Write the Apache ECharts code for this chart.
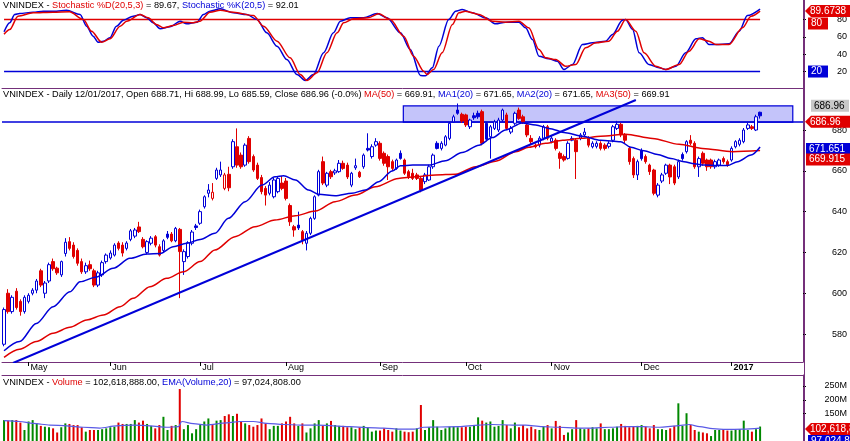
<!DOCTYPE html>
<html><head><meta charset="utf-8">
<script src="https://cdn.jsdelivr.net/npm/echarts@6/dist/echarts.min.js"></script>
<style>html,body{margin:0;padding:0;background:#fff}#c{width:850px;height:441px}</style>
</head><body><div id="c"></div>
<script>
// ---------- DATA ----------
const opens = [
575,600,591,601,596,591,596,600,601.5,611, 600,606,615.5,612.3,609,619.5,625.3,623.6,621,615.5,
610.5,614,611,604,609,615.5,617.3,618.7,624.6,623.6, 622,626.4,628,632.5,626.4,620,624.5,627.7,622.8,621,
629,629,625.7,631.3,615.5,618,624.5,633,634.3,642.4, 649,646.5,656.3,658,651.4,658.3,662,671.8,667.7,662.8,
675.9,667,662.8,656.7,651.4,649,647.3,649.8,654,655, 643,632.6,633.4,630.2,624.5,629.4,636.7,648.1,664.5,653,
659.6,659,659.6,663.7,662.8,653,661.5,659.3,662,671, 667,672.6,673.5,668.6,667,664.5,661.2,668.6,665.3,659.6,
658.8,658,656.3,654.7,655.5,662,673.5,671,672.6,675.9, 684,689.8,687.7,687.4,681.6,687,688.2,689,683.3,676.7,
680.8,680,684.9,687.4,679,683.3,689.8,686.5,682.5,675.9, 672.6,672.6,676,681.6,674.3,675,668.6,667,666.1,675,
675,676,677.6,676,671.8,672,673.5,672.6,672,675, 680.8,682.8,677.5,671,666,658,670,667,662.8,660.4,
648.1,655,658.8,662.8,662,657,668,669.4,675,673.5, 662,668.6,665.3,665.3,662,662.8,666,664.5,665.3,671.8,
673,674.3,680.8,681.6,680,688.71];
const closes = [
592,591,598,593,591,598,599,601.5,606,604, 605,614,612,610,615.5,625,622,618,614.7,610.5,
613.5,612,604,610,615,618.7,619.7,623.6,622,619.7, 624.6,630.6,631,630.2,622.8,625.3,627,623.6,618.7,625.7,
627.4,625.7,631.8,620.4,620.4,624.8,630,632.2,640,647.3, 650.6,649.5,660.4,660.4,658,651.7,674.3,662.8,662,672.6,
664.5,660.4,656.3,649.8,648.1,653,655.5,656.3,651.4,646.5, 635,631,632,626,629.4,636.7,647.3,659.6,654,658.8,
657.1,660,663.7,661.2,657,658.8,662.5,657.1,667.7,670.2, 671.8,674.3,666.1,663.7,662,661.2,665.3,666.1,658.8,657.1,
656.3,656.3,650.6,658,662,667.7,671,673.5,676.7,683.3, 686.5,688.2,684.4,682.5,684.9,686,686.5,673.5,675.5,681.6,
684,684.9,689.8,680.8,680.8,688.2,685.7,684,677.6,674.3, 671.8,676,681.6,676,676,671,666.1,665.3,673.5,675.9,
669.4,677.6,679,672.6,673.5,673.5,671,671,673.5,681.6, 682.8,677.6,675,664.5,658,664.5,666,664.5,659.6,649,
653,658,662.8,657,654,664.5,666,674.3,673.5,662, 666,663.7,662,662,664.5,665.3,664.5,663,671,674.3,
675,680,682.5,680.8,686.5,686.96];
const lows = [
574,590,590,592,589,590,595,599,600,603, 597.6,605,611,609,608,618,621,617,613.5,609.5,
609.5,611,603,603,608,614.5,616.5,618,621,618, 621,625.5,627,629.5,622,619,623.5,622.5,618,620,
626.5,625,625,597.6,609,617,623.5,631,633.5,641.5, 647,645.5,655.5,657,650.5,650,661,661.5,661,662,
663.5,659.5,655.5,648.5,643,648,646.5,649,650.5,645.5, 633,627.7,631,624,621,628.5,636,647.5,653,652,
656,658,659,660.5,656,652,660.5,656.5,661,669.5, 666,671.8,665,662.5,655.5,660,660.5,665.5,658,656,
655.5,655.5,649.5,653.5,655,661,670.5,670,672,675, 683.5,687.5,683.5,681.5,680.5,685,685.5,672.5,674.5,666,
680,679,684,680,678,682.5,685,683,676.5,673, 671,671.5,675,675,673.5,670,661,664.5,665.5,674.5,
656,675,676.5,671.5,671,671,670,670,671,674, 680,676.5,673.5,663,656.5,655.5,665,663.5,658,648,
647,654,658,653.5,653,656,665,668.5,672.5,661, 657,662.5,660,661,661,662,663.5,662,664.5,671,
672,673.5,680,680,679.5,685.59];
const highs = [
593,602,599,602.5,597,599,600,602.5,607,612, 606,615,617,613,616,627,627.5,625,622,617,
615,616,612,611,616,619.5,621,624.5,625.5,625, 625.5,631.5,632,635,627.5,626,628,628.5,624,626.5,
630.5,630,632.5,632,621.5,625.5,631,634,641,648, 653.5,654,661.5,664.5,659,662,675.5,680.8,669,673.5,
677,668,664,658,652.5,654.5,656.5,657,657.5,656.5, 644,633.5,640,631,630.5,637.5,648,660.5,667,659.5,
660.5,661,665.3,665,664,659.5,666,660,668.5,678.4, 673,676,674.5,669.5,668,665.5,666,670,666,660.5,
661,659,657,659,663,668.5,674.5,674.5,677.5,684, 687.5,693,688.5,688,685.5,688.5,689.5,690,684,682.5,
685,686,690.5,688.5,682,689,691,687.5,683.5,677.5, 673.5,677,682.5,682.5,677,676,669.5,668,674.5,677,
676,678.5,681,677,674.5,674.5,674.5,673.5,674.5,682.5, 684.5,683.5,678.5,672,667,665.5,671,668,663.5,661,
654,659,663.5,663.5,663,665.5,669,675,677.5,674.5, 667,669.5,666,666,665.5,666,667,665.5,672,675,
676,681,683.5,682.5,687.5,688.99];
// volume in millions of shares
const volumes = [
126,124,126,126,117,90,121,126,114,105, 102,100,96,81,100,114,112,108,108,100,
84,90,90,90,93,96,100,102,117,112, 112,112,126,117,124,112,105,96,108,138,
90,105,108,239,93,108,78,93,108,121, 132,108,124,126,141,147,141,149,121,114,
108,102,108,132,114,93,105,105,114,121, 138,114,105,114,81,96,114,126,105,114,
123,108,105,105,100,100,93,100,105,100, 84,88,88,96,90,84,96,88,84,82,
84,96,181,90,100,126,102,90,96,102, 102,100,100,102,102,105,136,124,117,121,
102,105,126,108,96,117,100,108,96,102, 93,90,102,108,96,123,105,72,81,93,
126,96,93,96,100,96,114,93,93,96, 102,112,105,100,102,105,108,102,96,108,
93,93,90,96,105,187,105,151,108,90, 84,81,78,68,90,90,93,88,88,90,
93,124,90,84,93,102.6];
// moving averages [bar index, value]
const ma20 = [[0,571.8],[3.8,576.3],[7.9,585.2],[12,593.4],[16.1,600.7],[18.6,605.6],[22.6,608],[26.7,612.2],
 [30.8,617.1],[34.9,619.2],[38.2,619.5],[41.4,622.8],[44.7,624.5],[48,626.4],[51.6,629.4],[54.9,636.7],[59,644.9],
 [63.1,653],[66.3,657.1],[68.4,657.6],[71.3,655.5],[74.5,650.6],[77,648.5],[81,647.8],[85.1,649],[88.4,650.6],
 [91.7,654.7],[95,659.9],[97,662.5],[100,662.8],[104,662.8],[108,665],[112.1,669],[116.2,672.6],[119.5,676.3],
 [122.7,680],[126.8,683.5],[130.1,682.5],[133.3,680.8],[137.4,678.7],[141.5,677],[146,675],[150.9,674.3],
 [153.4,671.5],[156.6,669.8],[159.9,668],[163.2,666],[166.4,664.5],[168.9,663.5],[171.3,662.8],[174.6,662.6],
 [177,662.6],[179.5,664.5],[182.8,667.7],[185,671.65]];
const ma50 = [[0,568.6],[3.8,572.5],[7.9,576.3],[12,580.4],[16.1,583.3],[20.2,586.9],[24.3,589.3],[28.4,593.4],
 [31.6,597.5],[35.7,603.2],[39.8,607.3],[43.9,610.5],[48,615.5],[51.6,621.2],[56.5,627.7],[61.4,632.6],
 [66.3,635.9],[71.3,638],[76.2,640.3],[81,644.9],[86,648.1],[90.9,652.2],[96.5,656.3],[100.7,657.1],
 [105.6,658],[110.5,658.3],[115.4,662],[120.3,664.7],[125.2,669.4],[128.4,671.5],[132.5,673.5],[136.7,675],
 [141.5,676],[146,677],[152.1,677.9],[158.7,675.9],[165.2,673],[170.9,671],[178.3,669.4],[185,669.91]];
// stochastic [bar index, value]
const stochK = [[0,65.8],[1.4,76.2],[2.6,85.8],[3.8,86.9],[7.1,88.4],[9.6,89.6],[12.8,89.6],[15.3,90.7],
 [18.6,85.8],[20.2,72.3],[21.8,60.8],[23,53.8],[24.3,55],[25.9,58.9],[27.5,72.3],[29.2,79.2],[31.6,83.8],
 [33.3,85.8],[34.9,82],[36.5,76.2],[38.2,69.3],[40.6,71.6],[43.1,78],[44.7,75],[47.2,76.9],[48.8,85.8],
 [50.4,89.6],[52.9,92.3],[56.1,87.7],[59.4,85.8],[61.9,80],[64.3,64.6],[66.8,49.2],[69.2,33.8],[71.7,16.5],
 [73.7,9.6],[75.7,16.5],[78.2,41.6],[80.6,64.6],[82.3,78],[84.7,82],[88,82],[91.3,86.9],[93.7,82],[97,64.6],
 [99.4,45.4],[101.9,15.4],[103.1,15],[104.8,24.3],[106.4,49.2],[108.8,80],[110.5,89.6],[112.1,91.5],
 [114.6,87.7],[117.8,82],[120.3,75],[122.7,76.9],[126,76.9],[127.6,70.4],[129.3,56.9],[130.9,37.7],
 [133.3,34.6],[135.4,31.9],[137,22.3],[139.1,28.1],[141.5,51.2],[144,53.1],[147.2,55],[148.9,62.7],
 [151.3,79.2],[152.1,80],[153.8,68.5],[155.4,41.6],[157.8,28.1],[160.3,24.3],[161.9,22.3],[164.4,26.1],
 [166.8,41.6],[169.3,57.7],[170.9,58.9],[172.5,51.2],[174.2,51.2],[177.4,52],[179.9,66.5],[181.9,84.6],[185,92.01]];
const stochD = [[0,63],[1.4,68.5],[3.4,83.8],[7.1,87.7],[12,88.5],[16,89],[19.4,80],[21.4,66.5],[23.9,53.8],
 [25.9,57.7],[28.4,72.3],[30,78],[33.3,85.8],[35.3,82],[37.3,74.2],[39,70.4],[41.4,73],[43.9,76.9],[46.3,76.2],
 [47.9,78],[50.4,88.4],[52.9,90.7],[56.1,88.4],[61,84.6],[63.5,72.3],[66.8,55],[70,35.8],[72.5,16.5],[74.1,9.6],
 [76.6,18.5],[79,41.6],[81.5,64.6],[83.1,76.2],[85.5,80.8],[89,82],[91.7,86.5],[94.5,80],[97.8,60.8],
 [100.2,37.7],[102.7,20.4],[103.5,16.5],[105.1,22.3],[107.2,41.6],[109.7,74.2],[111.3,87.7],[112.9,89.6],
 [116.2,85.8],[119.5,78],[122.7,76.9],[126,78],[128.4,70.4],[130.9,45.4],[132.5,35.8],[135,33.8],[137.4,26.1],
 [139.9,28.1],[142.3,47.4],[144.8,53.1],[148,55],[150.1,66.5],[152.1,80],[154.6,66.5],[156.6,41.6],
 [159.5,26.1],[161.9,22.3],[165.2,28.1],[167.6,43.4],[170.1,57.7],[172.5,55],[174.2,51.2],[177.4,51.2],
 [180.7,70.4],[182.8,83.8],[185,89.67]];
// EMA(volume,20) in millions [bar index, value]
const volEma = [[0,124],[3.8,121],[7.1,114],[11.2,108],[15.3,105],[19.4,100],[23.4,97],[27.5,105],[31.6,108],
 [35.7,105],[39.8,100],[42.7,102],[43.5,121],[46.3,113],[49.6,108],[54.5,116],[57.8,121],[61,121],[64.3,114],
 [68.4,110],[72.5,108],[76.6,108],[80.6,105],[84.7,102],[88.8,99],[92.9,97],[97,93],[100.3,93],[102.7,100],
 [106,101],[111.3,102],[116.2,108],[119.5,110],[124.4,108],[127.6,108],[131.7,102],[135.8,100],[139.9,97],
 [144,97],[148.1,100],[152.2,102],[156.3,102],[160.4,100],[164.5,105],[167.7,110],[170.2,102],[173.4,95],
 [176.7,92],[180.8,93],[185,97.02]];
const trendLine = [[2.2,565.8],[154.6,694.7]];
const resistBox = [[97.7,691.8],[193,683.9]];
const resistLevel = 683.9;
const stochUpper = 80, stochLower = 20;
const monthLabels = {6:'May',26:'Jun',48:'Jul',69:'Aug',92:'Sep',113:'Oct',134:'Nov',156:'Dec',178:'2017'};
const priceTicks = [580,600,620,640,660,680];
const stochTicks = [20,40,60,80];
const volTicks = [150,200,250];

// ---------- CHART ----------
const RED='#e00000', BLUE='#0000d8', GREEN='#008800', PURPLE='#74307a';
const FF='"Liberation Sans", Arial, sans-serif';
const N = closes.length, NCAT = 196;
const cats = Array.from({length:NCAT},(_,i)=>String(i));
const candleData = closes.map((c,i)=>{
  const o=opens[i], prev = i>0?closes[i-1]:o;
  const item = {value:[o,c,lows[i],highs[i]]};
  if (c<o && c>prev) item.itemStyle={color:BLUE,color0:BLUE,borderColor:BLUE,borderColor0:BLUE};
  else if (c>o && c<prev) item.itemStyle={color:'#fff',color0:'#fff',borderColor:RED,borderColor0:RED};
  return item;
});
const volData = volumes.map((v,i)=>({value:v,itemStyle:{color:(i===0||closes[i]>=closes[i-1])?GREEN:RED}}));

function catAxis(gi, extra){
  return Object.assign({type:'category',gridIndex:gi,data:cats,boundaryGap:true,
    axisLine:{show:true,onZero:false,lineStyle:{color:PURPLE,width:1}},axisTick:{show:false},axisLabel:{show:false},splitLine:{show:false}},extra||{});
}
function valX(gi){ return {type:'value',gridIndex:gi,min:-0.5,max:NCAT-0.5,show:false}; }
function yAx(gi,min,max,ticks,fmt){
  return {type:'value',gridIndex:gi,position:'right',min:min,max:max,scale:true,
    axisLine:{show:true,onZero:false,lineStyle:{color:PURPLE,width:1}},
    axisTick:{show:true,customValues:ticks,length:3,lineStyle:{color:'#000'}},
    axisLabel:{show:true,customValues:ticks,align:'right',margin:44,fontSize:9,fontFamily:FF,color:'#000',formatter:fmt},
    splitLine:{show:false}};
}
const isMonth = (i)=> monthLabels[i]!==undefined;
const lineS = (xa,ya,data,color,w,z,extra)=>Object.assign({type:'line',xAxisIndex:xa,yAxisIndex:ya,data:data,
  symbol:'none',lineStyle:{color:color,width:w},itemStyle:{color:color},z:z,silent:true},extra||{});

const TS = 9.2;
const rich = {k:{color:'#000',fontSize:TS,fontFamily:FF,fontWeight:'normal'},r:{color:RED,fontSize:TS,fontFamily:FF,fontWeight:'normal'},b:{color:BLUE,fontSize:TS,fontFamily:FF,fontWeight:'normal'}};
const tStyle = {rich:rich,fontSize:TS,fontWeight:'normal',fontFamily:FF};
const chart = echarts.init(document.getElementById('c'),null,{renderer:'canvas'});
chart.setOption({
  animation:false, backgroundColor:'#fff',
  title:[
    {left:3,top:1,padding:0,text:'{k|VNINDEX - }{r|Stochastic %D(20,5,3)}{k| = 89.67, }{b|Stochastic %K(20,5)}{k| = 92.01}',textStyle:tStyle},
    {left:3,top:90,padding:0,text:'{k|VNINDEX - Daily 12/01/2017, Open 688.71, Hi 688.99, Lo 685.59, Close 686.96 (-0.0%) }{r|MA(50)}{k| = 669.91, }{b|MA1(20)}{k| = 671.65, }{b|MA2(20)}{k| = 671.65, }{r|MA3(50)}{k| = 669.91}',textStyle:tStyle},
    {left:3,top:378,padding:0,text:'{k|VNINDEX - }{r|Volume}{k| = 102,618,888.00, }{b|EMA(Volume,20)}{k| = 97,024,808.00}',textStyle:tStyle}
  ],
  grid:[
    {left:2,right:46,top:0,height:88},
    {left:2,right:46,top:88,height:274},
    {left:2,right:46,top:375,height:66}
  ],
  xAxis:[
    catAxis(0),
    catAxis(1,{axisTick:{show:true,interval:(i)=>isMonth(i),alignWithLabel:true,length:4,lineStyle:{color:'#000'}},
      axisLabel:{show:true,interval:(i)=>isMonth(i),formatter:(v,i)=>{const s=monthLabels[+v];return s==='2017'?'{bb|2017}':(s||'');},
        align:'left',margin:1,padding:[0,0,0,2],fontSize:9,fontFamily:FF,color:'#000',
        rich:{bb:{fontWeight:'bold',fontSize:9,fontFamily:FF,color:'#000'}}}}),
    catAxis(2,{position:'top'}),
    valX(0), valX(1), valX(2)
  ],
  yAxis:[
    yAx(0,1,102.5,stochTicks),
    yAx(1,566.3,700.6,priceTicks),
    yAx(2,50,290,volTicks,(v)=>v+'M')
  ],
  series:[
    lineS(3,0,[[0,stochUpper],[N-1,stochUpper]],RED,1.5,2),
    lineS(3,0,[[0,stochLower],[N-1,stochLower]],BLUE,1.5,2),
    lineS(3,0,stochK,BLUE,1.5,3,{smooth:0.3,smoothMonotone:'x'}),
    lineS(3,0,stochD,RED,1.5,4,{smooth:0.3,smoothMonotone:'x'}),
    lineS(4,1,[[-0.5,resistLevel],[NCAT-0.5,resistLevel]],BLUE,1.5,1,{
      markArea:{silent:true,itemStyle:{color:'#c4c4fa',borderColor:BLUE,borderWidth:1.2},
        data:[[{coord:resistBox[0]},{coord:resistBox[1]}]]}}),
    {type:'candlestick',xAxisIndex:1,yAxisIndex:1,data:candleData,barWidth:3,z:3,silent:true,
      itemStyle:{color:'#fff',color0:RED,borderColor:BLUE,borderColor0:RED,borderWidth:1}},
    lineS(4,1,ma50,RED,1.5,4,{smooth:0.3,smoothMonotone:'x'}),
    lineS(4,1,ma20,BLUE,1.5,4,{smooth:0.3,smoothMonotone:'x'}),
    lineS(4,1,trendLine,BLUE,2,5),
    {type:'bar',xAxisIndex:2,yAxisIndex:2,data:volData,barWidth:2,z:2,silent:true},
    lineS(5,2,volEma,'#5a5ae6',1.2,4,{smooth:0.3,smoothMonotone:'x'})
  ]
});

// right-hand value tags, positioned through the axes
function tag(yc,text,bg,fg,arrow,x0,x1){
  const h=12, t=yc-h/2, b=yc+h/2;
  const pts = arrow?[[x0,yc],[x0+6,t],[x1,t],[x1,b],[x0+6,b]]:[[x0,t],[x1,t],[x1,b],[x0,b]];
  return [{type:'polygon',shape:{points:pts},style:{fill:bg},z:100},
    {type:'text',x:x0+(arrow?5:3),y:yc,style:{text:text,fill:fg,font:'10px '+FF,verticalAlign:'middle',textVerticalAlign:'middle'},z:101}];
}
const Y=(ax,v)=>chart.convertToPixel({yAxisIndex:ax},v);
let g=[];
g=g.concat(tag(Y(0,89.6738),'89.6738',RED,'#fff',true,805,850));
g=g.concat(tag(Y(0,80)+4,'80',RED,'#fff',false,808,828));
g=g.concat(tag(Y(0,20),'20',BLUE,'#fff',false,808,828));
g=g.concat(tag(Y(1,686.96)-10,'686.96','#c8c8c8','#000',false,811,849));
g=g.concat(tag(Y(1,686.96)+6,'686.96',RED,'#fff',true,805,850));
g=g.concat(tag(Y(1,671.651)+2,'671.651',BLUE,'#fff',false,806,850));
g=g.concat(tag(Y(1,669.915)+9,'669.915',RED,'#fff',false,806,850));
g=g.concat(tag(Y(2,102.618888)+2.5,'102,618,888',RED,'#fff',true,805,850));
g=g.concat(tag(Y(2,97.024808)+13,'97,024,808',BLUE,'#fff',false,808,850));
g.push({type:'line',shape:{x1:804.5,y1:0,x2:804.5,y2:441},style:{stroke:PURPLE,lineWidth:1},z:50});
chart.setOption({graphic:g});
</script></body></html>
